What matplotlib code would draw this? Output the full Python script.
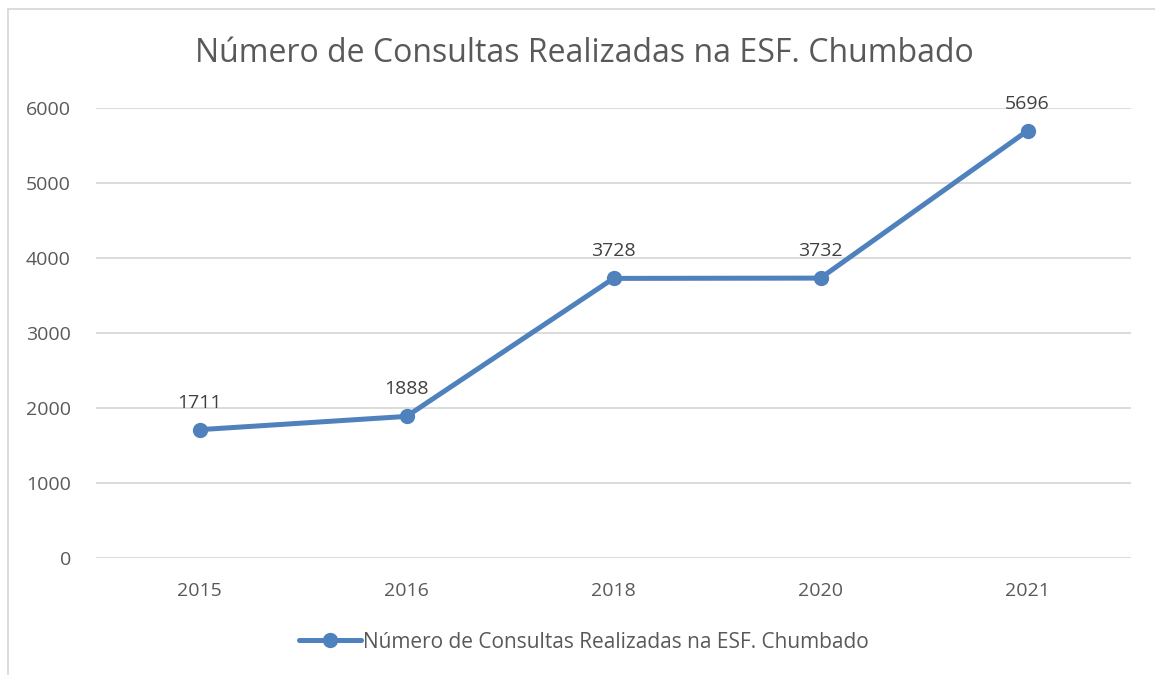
import matplotlib
matplotlib.use("Agg")
import matplotlib.pyplot as plt
from matplotlib.patches import Rectangle

categories = ["2015", "2016", "2018", "2020", "2021"]
values = [1711, 1888, 3728, 3732, 5696]
series_name = "Número de Consultas Realizadas na ESF. Chumbado"
title = "Número de Consultas Realizadas na ESF. Chumbado"
yticks = [0, 1000, 2000, 3000, 4000, 5000, 6000]

plt.rcParams['font.family'] = ['Open Sans', 'DejaVu Sans']
TEXT = "#595959"
LINE = "#4F81BD"
GRID = "#D9D9D9"

fig = plt.figure(figsize=(11.55, 6.75), dpi=100)
fig.patches.append(Rectangle((8/1155, -0.1), 1.2, 1.1 - 9/675, transform=fig.transFigure,
                             fill=False, edgecolor=GRID, linewidth=1.3))
ax = fig.add_axes([96/1155, 1 - 558/675, (1131 - 96)/1155, (558 - 108)/675])

x = list(range(len(categories)))
ax.plot(x, values, color=LINE, linewidth=3.6, marker='o', markersize=10,
        label=series_name, solid_capstyle='round', zorder=3)
for xi, v in zip(x, values):
    ax.annotate(str(v), (xi, v), xytext=(0, 13), textcoords='offset points',
                ha='center', va='bottom', fontsize=14, color="#404040")

ax.set_xlim(-0.5, len(categories) - 0.5)
ax.set_ylim(0, 6000)
ax.set_yticks(yticks)
ax.set_yticklabels([str(t) for t in yticks])
ax.set_xticks(x)
ax.set_xticklabels(categories)
ax.grid(axis='y', color=GRID, linewidth=1.3)
ax.set_axisbelow(True)
for s in ax.spines.values():
    s.set_visible(False)
ax.tick_params(axis='both', length=0, labelsize=14, labelcolor=TEXT)
ax.tick_params(axis='y', pad=18)
ax.tick_params(axis='x', pad=17)

fig.text(584/1155, 1 - 53/675, title, ha='center', va='center', fontsize=23, color=TEXT)

leg = fig.legend(loc='center', bbox_to_anchor=(584/1155, 1 - 642/675), frameon=False,
                 fontsize=15, handlelength=3.0, handletextpad=0.1, labelcolor=TEXT)

fig.savefig("out.png", dpi=100, facecolor='white')
